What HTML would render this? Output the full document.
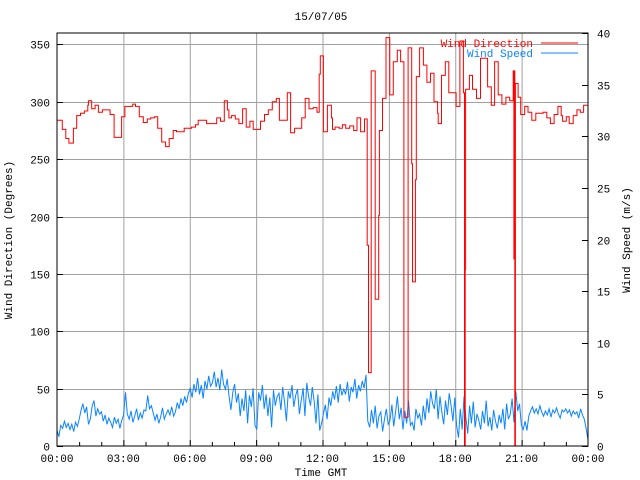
<!DOCTYPE html>
<html><head><meta charset="utf-8"><style>
html,body{margin:0;padding:0;background:#fff;}
svg{display:block;font-family:"Liberation Mono","DejaVu Sans Mono",monospace;font-size:11px;}
</style></head><body>
<svg id="chart" width="640" height="480" xmlns="http://www.w3.org/2000/svg">
<rect x="0" y="0" width="640" height="480" fill="#fff"/>
<g id="grid"></g>
<g id="speed"></g>
<g id="dir"></g>
<rect x="57" y="33" width="531" height="413" fill="none" stroke="#000" stroke-width="1"/>
<g id="axes"></g>
<text x="321" y="20" text-anchor="middle">15/07/05</text>
<text x="321" y="476" text-anchor="middle">Time GMT</text>
<text transform="translate(12,240) rotate(-90)" text-anchor="middle">Wind Direction (Degrees)</text>
<text transform="translate(630,240) rotate(-90)" text-anchor="middle">Wind Speed (m/s)</text>
<g>
<text x="533" y="47" text-anchor="end" fill="#ff0000">Wind Direction</text>
<line x1="541" y1="43" x2="578" y2="43" stroke="#ff0000"/>
<text x="533" y="57" text-anchor="end" fill="#0a84ff">Wind Speed</text>
<line x1="541" y1="53" x2="578" y2="53" stroke="#0a84ff"/>
</g>
</svg>
<script>
const xTickLabels=["00:00","03:00","06:00","09:00","12:00","15:00","18:00","21:00","00:00"];
const leftTicks=[0,50,100,150,200,250,300,350];
const rightTicks=[0,5,10,15,20,25,30,35,40];
const dirHours=[0,0.24,0.4,0.54,0.74,0.89,1.06,1.24,1.39,1.42,1.57,1.72,1.87,2.05,2.4,2.58,2.92,3.07,3.42,3.55,3.72,3.9,4.08,4.23,4.4,4.55,4.73,4.91,5.07,5.25,5.4,5.75,6.08,6.26,6.38,6.76,7.22,7.39,7.56,7.7,7.77,7.89,8.06,8.22,8.39,8.55,8.72,8.87,9.2,9.38,9.55,9.73,9.91,10.05,10.24,10.41,10.56,10.74,11.06,11.22,11.39,11.58,11.75,11.85,11.9,12.04,12.22,12.4,12.45,12.57,12.75,12.9,13.05,13.23,13.41,13.56,13.72,13.9,14.02,14.08,14.2,14.38,14.54,14.57,14.71,14.87,15.04,15.2,15.38,15.53,15.68,15.87,16.03,16.07,16.2,16.24,16.39,16.56,16.72,16.88,17.04,17.2,17.23,17.38,17.55,17.71,18.04,18.21,18.37,18.42,18.45,18.47,18.64,18.78,18.96,19.14,19.46,19.63,19.78,19.94,20.11,20.29,20.46,20.62,20.65,20.67,20.69,20.72,20.79,20.84,20.96,21.14,21.29,21.46,21.64,21.97,22.14,22.3,22.47,22.64,22.79,22.85,23.02,23.15,23.33,23.5,23.65,23.8];
const dirValues=[284,276,268,264,277,288,290,292,297,301,294,297,291,293,289,269,287,296,298,296,287,282,285,286,287,277,265,261,268,275,274,277,278,280,284,281,286,283,301,293,286,288,285,281,294,278,283,276,283,289,293,300,303,284,284,308,273,277,286,303,294,295,291,324,340,274,297,286,276,278,277,280,277,279,275,286,274,285,175,64,327,128,201,275,303,356,306,335,345,335,25,347,246,143,232,322,347,332,317,325,300,290,281,323,335,308,296,353,308,0,154,311,323,311,303,338,313,297,335,306,298,304,301,327,163,327,0,316,316,304,289,296,291,284,290,291,286,281,289,296,288,283,287,281,288,293,291,297];
const speedValues=[
1.5,0.9,2.0,1.7,2.4,1.8,2.2,1.6,2.1,1.4,2.3,1.9,
2.6,3.5,4.1,3.2,3.8,2.1,2.6,3.9,4.4,2.9,3.6,3.1,
3.3,2.4,3.0,2.1,2.7,2.3,1.8,2.8,2.2,2.6,1.7,2.5,
3.0,5.2,3.1,2.6,3.4,2.3,2.9,3.6,2.5,3.2,2.7,3.5,
3.4,4.9,3.6,3.9,3.2,2.5,3.1,2.2,2.8,3.7,2.6,3.1,
3.5,3.0,3.8,2.9,3.3,4.2,3.6,4.6,3.9,4.8,4.2,5.1,
5.6,4.7,6.0,5.2,6.6,5.0,5.9,4.6,6.3,5.5,6.8,5.8,
6.1,7.2,5.7,6.6,5.4,7.4,6.0,5.5,6.5,4.8,3.5,5.2,
6.0,4.2,5.1,2.9,4.6,3.4,5.4,2.2,4.9,3.8,5.6,2.0,
1.6,5.2,4.4,5.9,3.6,5.0,2.9,4.7,1.8,5.4,3.9,4.8,
5.1,3.5,5.7,4.2,2.4,5.3,4.6,5.9,3.8,4.9,5.5,3.1,
4.4,5.6,2.9,6.1,4.8,3.9,5.7,4.3,2.2,5.0,1.5,2.2,
3.1,4.0,2.6,4.7,3.9,5.3,4.5,5.8,4.2,6.0,4.9,5.5,
5.0,6.2,4.3,5.7,5.2,6.5,4.6,5.9,5.3,6.3,5.6,6.9,
2.4,1.8,3.5,2.2,3.9,1.7,2.9,3.3,1.4,2.6,3.6,2.1,
2.5,4.0,1.9,3.3,4.8,2.6,3.7,1.6,3.4,2.2,4.4,2.0,
2.3,1.5,3.6,2.7,3.1,2.0,3.9,2.5,4.6,3.2,5.3,4.1,
3.6,5.5,2.6,4.8,3.3,2.1,4.4,3.0,5.1,3.9,2.4,4.7,
2.0,0.8,3.6,1.6,4.8,2.7,1.2,3.9,2.2,4.3,1.8,3.1,
2.5,1.6,3.4,2.2,4.4,1.9,2.8,1.5,3.5,2.4,1.7,3.0,
2.2,3.6,1.6,4.1,2.6,3.1,4.6,2.3,5.3,3.4,4.1,2.0,
1.6,2.4,1.5,2.9,3.4,3.8,3.2,3.6,3.1,3.9,3.3,2.9,
3.4,3.0,3.6,2.8,3.5,3.2,3.7,3.1,2.7,3.5,3.3,3.6,
3.2,3.5,2.9,3.4,3.1,3.3,2.7,3.6,3.0,2.6,1.7,0.6];

const NS="http://www.w3.org/2000/svg";
const X0=57,X1=588,Y0=446,Y1=33;
function xs(h){return X0+(h/24)*(X1-X0);}
function yl(v){return Y0-(v/360)*(Y0-Y1);}
function yr(v){return Y0-(v/40)*(Y0-Y1);}
function mk(tag,attrs,parent){const e=document.createElementNS(NS,tag);for(const k in attrs)e.setAttribute(k,attrs[k]);parent.appendChild(e);return e;}
const grid=document.getElementById('grid'),axes=document.getElementById('axes');
xTickLabels.forEach((lab,i)=>{
  const x=xs(i*3)+0.5;
  if(i>0&&i<xTickLabels.length-1){const g=mk('line',{x1:x,y1:Y1,x2:x,y2:Y0,stroke:'#a0a0a0'},grid);
  
  }
  const t=mk('text',{x:xs(i*3),y:462,'text-anchor':'middle'},axes);t.textContent=lab;
  
  
});
for(let h=1;h<24;h++){
  const tk=mk('line',{x1:xs(h)+0.5,y1:Y0,x2:xs(h)+0.5,y2:Y0-(h%3===0?6:4),stroke:'#000'},axes);
  
  
}
leftTicks.forEach(v=>{
  const y=Math.round(yl(v))+0.5;
  if(v>0){const g=mk('line',{x1:X0,y1:y,x2:X1,y2:y,stroke:'#a0a0a0'},grid);
  
  }
  const tk=mk('line',{x1:X0,y1:y,x2:X0+6,y2:y,stroke:'#000'},axes);
  
  
  const t=mk('text',{x:50,y:y+4,'text-anchor':'end'},axes);t.textContent=v;
  
  
});
rightTicks.forEach(v=>{
  const y=Math.round(yr(v))+0.5;
  const tk=mk('line',{x1:X1-6,y1:y,x2:X1,y2:y,stroke:'#000'},axes);
  
  
  const t=mk('text',{x:597,y:y+4,'text-anchor':'start'},axes);t.textContent=v;
  
  
});
let sp='';
speedValues.forEach((v,i)=>{const h=i*24/(speedValues.length-1);sp+=(i?'L':'M')+xs(h).toFixed(1)+','+yr(v).toFixed(1);});
const sl=mk('path',{d:sp,fill:'none',stroke:'#0a84ff','stroke-width':1},document.getElementById('speed'));


let dp='';
dirHours.forEach((h,i)=>{
  const x=xs(h).toFixed(1),y=yl(dirValues[i]).toFixed(1);
  if(i===0)dp='M'+x+','+y;else dp+='L'+x+','+yl(dirValues[i-1]).toFixed(1)+'L'+x+','+y;
});
dp+='L'+xs(24).toFixed(1)+','+yl(dirValues[dirValues.length-1]).toFixed(1);
const dl=mk('path',{d:dp,fill:'none',stroke:'#ff0000','stroke-width':1},document.getElementById('dir'));


</script>
</body></html>
